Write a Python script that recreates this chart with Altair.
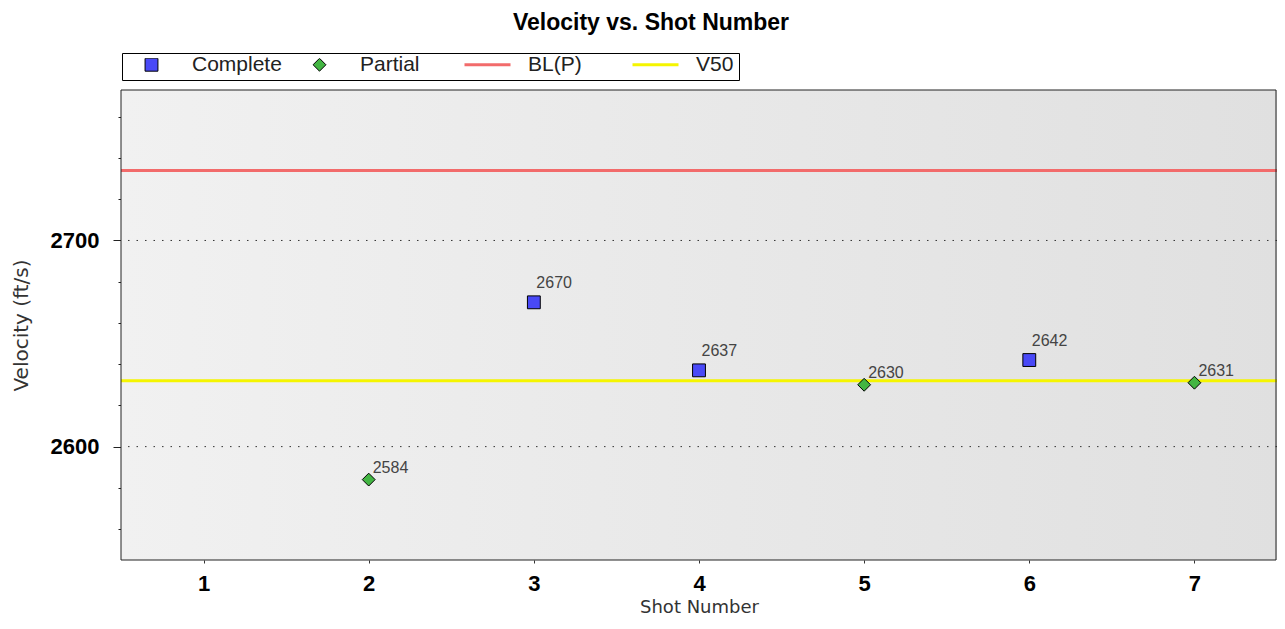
import altair as alt
import pandas as pd

# ---- data ----
shots = [2, 3, 4, 5, 6, 7]
velocities = [2584, 2670, 2637, 2630, 2642, 2631]
outcomes = ["Partial", "Complete", "Complete", "Partial", "Complete", "Partial"]
ref_names = ["BL(P)", "V50"]
ref_values = [2734, 2632]
series = ["Complete", "Partial", "BL(P)", "V50"]
series_fill = ["#4949f7", "#42b542", "transparent", "transparent"]
series_stroke = ["black", "black", "#f26b6b", "#f5f500"]
series_shape = ["square", "diamond", "stroke", "stroke"]
series_size = [165, 165, 2116, 2116]
series_stroke_width = [1, 1, 3, 3]
x_ticks = [1, 2, 3, 4, 5, 6, 7]
y_major = [2600, 2700]
y_minor = [2560, 2580, 2620, 2640, 2660, 2680, 2720, 2740, 2760]
x_domain = [0.5, 7.5]
y_domain = [2545, 2773]

W, H = 1156, 470

pts_df = pd.DataFrame({
    "shot": shots,
    "velocity": velocities,
    "series": outcomes,
    "label": [str(v) for v in velocities],
})
ref_df = pd.DataFrame({"series": ref_names, "value": ref_values})
grid_df = pd.DataFrame({"v": y_major})

x_scale = alt.Scale(domain=x_domain, nice=False, zero=False)
y_scale = alt.Scale(domain=y_domain, nice=False, zero=False)
fill_scale = alt.Scale(type="ordinal", domain=series, range=series_fill)
stroke_scale = alt.Scale(type="ordinal", domain=series, range=series_stroke)
shape_scale = alt.Scale(type="ordinal", domain=series, range=series_shape)
size_scale = alt.Scale(type="ordinal", domain=series, range=series_size)
sw_scale = alt.Scale(type="ordinal", domain=series, range=series_stroke_width)

# a blank (no-break-space) legend title on the right only widens the legend box
legend = alt.Legend(
    title="\u00a0" * 18, titleOrient="right", titleFontSize=12,
    titlePadding=0, titleFont="Liberation Sans",
    orient="none", legendX=1, legendY=-37,
    direction="horizontal", columns=4, gridAlign="all",
    strokeColor="black", fillColor="white", padding=5,
    labelFont="Liberation Sans", labelFontSize=21, labelColor="#222",
    labelOffset=16, columnPadding=13, clipHeight=13, symbolOpacity=1,
)

bottom_axis = alt.Axis(
    orient="bottom", values=x_ticks, title="Shot Number", domain=False, grid=False,
    tickSize=3, tickColor="#333", labelFont="Liberation Sans", labelFontSize=22,
    labelFontWeight="bold", labelColor="black", labelPadding=10, labelFlush=False,
    format="d", titleFont="DejaVu Sans", titleFontSize=18, titleFontWeight="normal",
    titleColor="#333", titlePadding=4,
)
top_axis = alt.Axis(orient="top", values=x_ticks, title=None, labels=False, domain=False,
                    grid=False, tickSize=3, offset=-3, tickColor="#333")
left_major = alt.Axis(
    orient="left", values=y_major, title="Velocity (ft/s)", domain=False, grid=False,
    tickSize=17, offset=-9, tickColor="#222", labelFont="Liberation Sans", labelFontSize=22,
    labelFontWeight="bold", labelColor="black", labelPadding=14, format="d",
    titleFont="DejaVu Sans", titleFontSize=20, titleFontWeight="normal", titleColor="#333",
    titlePadding=19,
)
left_minor = alt.Axis(orient="left", values=y_minor, title=None, labels=False, domain=False,
                      grid=False, tickSize=7, offset=-4, tickColor="#222")
right_axis = alt.Axis(orient="right", values=y_minor + y_major, title=None, labels=False,
                      domain=False, grid=False, tickSize=5, offset=-5, tickColor="#333")

bg = alt.Chart(alt.Data(values=[{}])).mark_rect(
    fill={"gradient": "linear", "x1": 0, "x2": 1, "y1": 0, "y2": 0,
          "stops": [{"offset": 0, "color": "#f1f1f1"}, {"offset": 1, "color": "#e0e0e0"}]}
).encode(x=alt.value(0), x2=alt.value(W), y=alt.value(0), y2=alt.value(H))

frame = alt.Chart(alt.Data(values=[{}])).mark_rect(
    fillOpacity=0, stroke="#222", strokeWidth=1
).encode(x=alt.value(0), x2=alt.value(W - 1), y=alt.value(0), y2=alt.value(H))

grid = alt.Chart(grid_df).mark_rule(color="#333", strokeWidth=1, strokeDash=[1.5, 7]).encode(
    y=alt.Y("v:Q", scale=y_scale, axis=left_major)
)

lines = alt.Chart(ref_df).mark_rule().encode(
    y=alt.Y("value:Q", scale=y_scale, axis=left_minor),
    stroke=alt.Stroke("series:N", scale=stroke_scale, legend=legend),
    strokeWidth=alt.StrokeWidth("series:N", scale=sw_scale, legend=legend),
)

pts = alt.Chart(pts_df).mark_point(filled=True, opacity=1).encode(
    x=alt.X("shot:Q", scale=x_scale, axis=bottom_axis),
    y=alt.Y("velocity:Q", scale=y_scale, axis=right_axis),
    fill=alt.Fill("series:N", scale=fill_scale, legend=legend),
    stroke=alt.Stroke("series:N", scale=stroke_scale, legend=legend),
    shape=alt.Shape("series:N", scale=shape_scale, legend=legend),
    size=alt.Size("series:N", scale=size_scale, legend=legend),
    strokeWidth=alt.StrokeWidth("series:N", scale=sw_scale, legend=legend),
)

lab_sq = alt.Chart(pts_df).transform_filter("datum.series == 'Complete'").mark_text(
    align="left", baseline="alphabetic", dx=2.5, dy=-14, font="Liberation Sans", fontSize=16, color="#444"
).encode(
    x=alt.X("shot:Q", scale=x_scale, axis=top_axis),
    y=alt.Y("velocity:Q", scale=y_scale, axis=None),
    text="label:N",
)
lab_di = alt.Chart(pts_df).transform_filter("datum.series == 'Partial'").mark_text(
    align="left", baseline="alphabetic", dx=4, dy=-7, font="Liberation Sans", fontSize=16, color="#444"
).encode(
    x=alt.X("shot:Q", scale=x_scale, axis=None),
    y=alt.Y("velocity:Q", scale=y_scale, axis=None),
    text="label:N",
)

chart = alt.layer(bg, grid, lines, pts, lab_sq, lab_di, frame).resolve_axis(
    x="independent", y="independent"
).properties(
    width=W, height=H,
    padding={"left": 113, "top": 82, "right": 0, "bottom": 56},
    autosize=alt.AutoSizeParams(type="none"),
    title=alt.Title("Velocity vs. Shot Number", font="Liberation Sans", fontSize=23,
                    fontWeight="bold", color="black", anchor="middle", dx=-48, offset=18),
).configure_view(strokeWidth=0)

chart.save("out.html", embed_options={"renderer": "svg", "actions": False})
